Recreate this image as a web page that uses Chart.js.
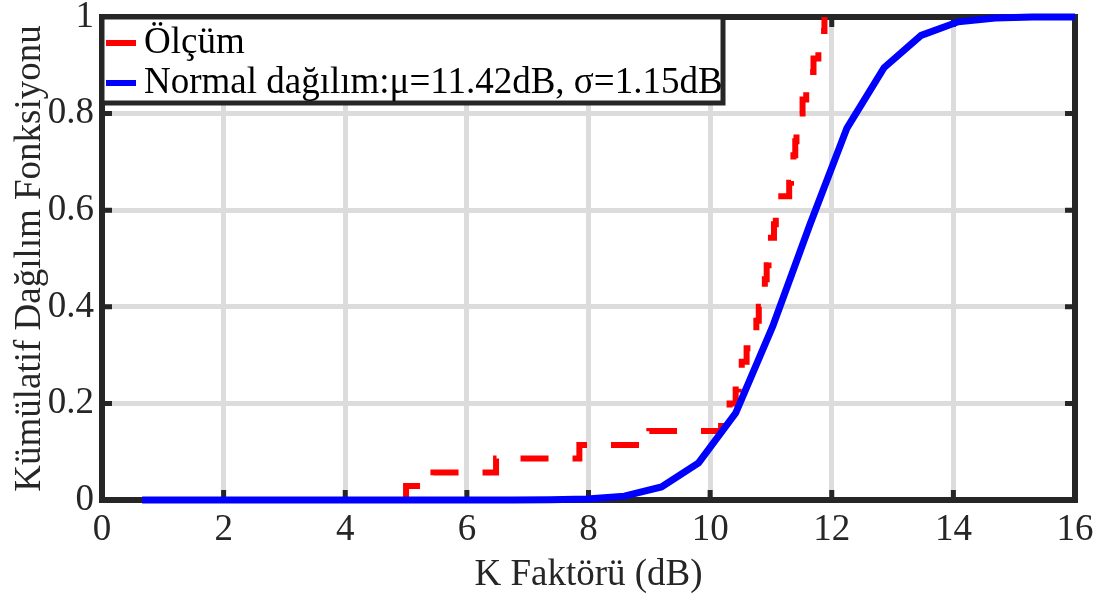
<!DOCTYPE html>
<html>
<head>
<meta charset="utf-8">
<script src="https://cdn.jsdelivr.net/npm/chart.js@4/dist/chart.umd.min.js"></script>
<style>
  body { margin: 0; background: #fff; }
  canvas { display: block; }
</style>
</head>
<body>
<canvas id="cdfCanvas" width="1102" height="599"></canvas>
<script>
const olcumX = [5.0, 5.0, 5.45, 6.48, 7.85, 9.0, 10.18, 10.32, 10.42, 10.47, 10.52, 10.6, 10.68, 10.76, 10.8,
    10.85, 10.9, 10.93, 10.96, 11.0, 11.05, 11.08, 11.1, 11.3, 11.33, 11.37, 11.4, 11.42, 11.45, 11.52,
    11.58, 11.62, 11.7, 11.78, 11.82, 11.88];
const olcumY = [0, 0.029, 0.057, 0.086, 0.114, 0.143, 0.171, 0.2, 0.229, 0.257, 0.286, 0.314, 0.343, 0.371, 0.4,
    0.429, 0.457, 0.486, 0.514, 0.543, 0.571, 0.6, 0.629, 0.657, 0.686, 0.714, 0.743, 0.771, 0.8, 0.829,
    0.857, 0.886, 0.914, 0.943, 0.971, 1.0];

// Normal fit CDF (sampled points)
const normalX = [0.66, 1.27, 1.88, 2.49, 3.1, 3.71, 4.32, 4.93, 5.54, 6.15, 6.76, 7.37, 7.98, 8.59, 9.2,
    9.81, 10.42, 11.03, 11.64, 12.25, 12.86, 13.47, 14.08, 14.69, 15.3, 16.0];
const normalY = [0, 0, 0, 0, 0, 0, 0, 0, 0, 0, 0, 0.0005, 0.002, 0.008, 0.027,
    0.077, 0.18, 0.36, 0.57, 0.77, 0.895, 0.962, 0.99, 0.998, 1.0, 1.0];

const labels = ['Ölçüm', 'Normal dağılım:μ=11.42dB, σ=1.15dB'];
const xTitle = 'K Faktörü (dB)';
const yTitle = 'Kümülatif Dağılım Fonksiyonu';

const FONT = 'Liberation Serif';
const AXIS = '#262626';

function toPoints(xs, ys) {
    return xs.map((x, i) => ({ x: x, y: ys[i] }));
}

// box, inward ticks and legend like the matlab figure
const framePlugin = {
    id: 'frame',
    beforeDatasetsDraw(chart) {
        const ctx = chart.ctx;
        const a = chart.chartArea;
        const xs = chart.scales.x, ys = chart.scales.y;
        ctx.save();
        ctx.strokeStyle = AXIS;
        ctx.lineWidth = 5;
        xs.ticks.forEach(t => {
            const px = xs.getPixelForValue(t.value);
            ctx.beginPath();
            ctx.moveTo(px, a.bottom); ctx.lineTo(px, a.bottom - 10);
            ctx.moveTo(px, a.top); ctx.lineTo(px, a.top + 10);
            ctx.stroke();
        });
        ys.ticks.forEach(t => {
            const py = ys.getPixelForValue(t.value);
            ctx.beginPath();
            ctx.moveTo(a.left, py); ctx.lineTo(a.left + 10, py);
            ctx.moveTo(a.right, py); ctx.lineTo(a.right - 10, py);
            ctx.stroke();
        });
        ctx.lineWidth = 6;
        ctx.strokeRect(a.left, a.top, a.right - a.left, a.bottom - a.top);
        ctx.restore();
    },
    afterDatasetsDraw(chart) {
        const ctx = chart.ctx;
        const a = chart.chartArea;
        const ds = chart.data.datasets;
        ctx.save();
        ctx.fillStyle = '#fff';
        ctx.strokeStyle = AXIS;
        ctx.lineWidth = 5;
        ctx.fillRect(a.left, a.top, 621, 86);
        ctx.strokeRect(a.left, a.top, 621, 86);
        ctx.font = '37px "' + FONT + '"';
        ctx.textBaseline = 'middle';
        const rows = [ds[1], ds[0]];
        rows.forEach((d, i) => {
            const y = a.top + 26 + i * 40;
            ctx.strokeStyle = d.borderColor;
            ctx.lineWidth = 6;
            ctx.beginPath();
            ctx.moveTo(a.left + 4, y); ctx.lineTo(a.left + 34, y);
            ctx.stroke();
            ctx.fillStyle = '#000';
            ctx.fillText(d.label, a.left + 42, y);
        });
        ctx.restore();
    }
};

new Chart(document.getElementById('cdfCanvas').getContext('2d'), {
    type: 'line',
    data: {
        datasets: [{
            label: labels[1],
            data: toPoints(normalX, normalY),
            borderColor: '#0000ff',
            borderWidth: 7,
            pointRadius: 0,
            tension: 0,
            clip: 10
        }, {
            label: labels[0],
            data: toPoints(olcumX, olcumY),
            borderColor: '#ff0000',
            borderWidth: 6,
            borderDash: [28, 24],
            stepped: 'before',
            pointRadius: 0,
            clip: 10
        }]
    },
    options: {
        responsive: false,
        animation: false,
        devicePixelRatio: 1,
        layout: { padding: { top: 17, right: 27, left: 0, bottom: 0 } },
        plugins: { legend: { display: false }, tooltip: { enabled: false } },
        scales: {
            x: {
                type: 'linear',
                min: 0,
                max: 16,
                ticks: { stepSize: 2, color: AXIS, padding: 8, font: { family: FONT, size: 37 }, maxRotation: 0 },
                grid: { color: '#dcdcdc', lineWidth: 5, drawTicks: false },
                border: { display: false },
                title: { display: true, text: xTitle, color: AXIS, font: { family: FONT, size: 37 }, padding: { bottom: 2, top: 0 } },
                afterFit(scale) {
                    scale.height = 99;
                    scale.paddingLeft = 0;
                    scale.paddingRight = 0;
                }
            },
            y: {
                min: 0,
                max: 1,
                ticks: {
                    stepSize: 0.2, color: AXIS, padding: 8, font: { family: FONT, size: 37 },
                    callback: v => String(Math.round(v * 10) / 10)
                },
                grid: { color: '#dcdcdc', lineWidth: 5, drawTicks: false },
                border: { display: false },
                title: { display: true, text: yTitle, color: AXIS, font: { family: FONT, size: 37 }, padding: { top: 8, bottom: 0 } },
                afterFit(scale) {
                    scale.width = 102;
                    scale.paddingTop = 0;
                    scale.paddingBottom = 0;
                }
            }
        }
    },
    plugins: [framePlugin]
});
</script>
</body>
</html>
